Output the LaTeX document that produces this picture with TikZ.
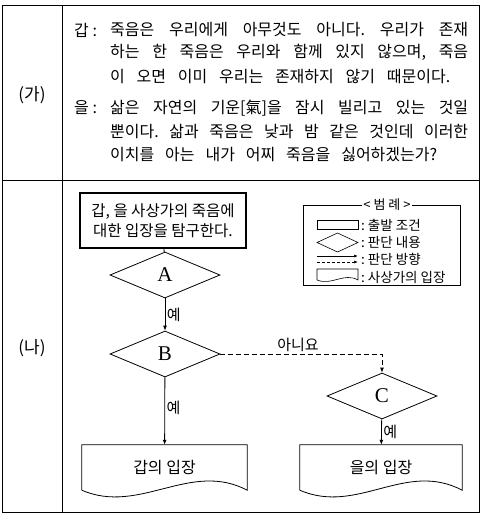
\documentclass[tikz,border=0pt]{standalone}
\usepackage{fontspec}
\setmainfont{Noto Sans CJK KR}
\newfontfamily\latinserif{Liberation Serif}
\usetikzlibrary{shapes.geometric,arrows.meta,calc}
\frenchspacing
\begin{document}
\begin{tikzpicture}[x=1pt,y=-1pt,
  tip/.style={-{Latex[length=5pt,width=4pt]}},
  dia/.style={diamond,draw,line width=0.8pt,shape aspect=2.4,minimum width=110pt,minimum height=46pt,inner sep=0pt,font=\latinserif\fontsize{21}{21}\selectfont},
  docbox/.style={minimum width=165pt,minimum height=45pt,inner sep=0pt,font=\fontsize{16}{18}\selectfont},
  lbl/.style={font=\fontsize{15}{16}\selectfont,inner sep=1.5pt},
  body/.style={anchor=west,inner sep=0pt,font=\fontsize{16}{18}\selectfont},
  legtxt/.style={anchor=west,inner sep=0pt,font=\fontsize{13.5}{15}\selectfont},
  rowlbl/.style={font=\fontsize{17}{19}\selectfont}
]
\useasboundingbox (0,0) rectangle (487,520);
% table
\draw[line width=1pt] (2,5) rectangle (479,512);
\draw[line width=1pt] (62,5) -- (62,512);
\draw[line width=1pt] (2,180) -- (479,180);
\node[rowlbl] (ga) at (32,95) {(가)};
\node[rowlbl] (na) at (32,348) {(나)};
% text
\node[body] (s1) at (74,30) {갑 :};
\node[body] (l1) at (110,30) {\makebox[358pt][s]{죽음은 우리에게 아무것도 아니다. 우리가 존재}};
\node[body] (l2) at (110,52) {\makebox[358pt][s]{하는 한 죽음은 우리와 함께 있지 않으며, 죽음}};
\node[body] (l3) at (110,77) {\makebox[340pt][s]{이 오면 이미 우리는 존재하지 않기 때문이다.}};
\node[body] (s2) at (74,108) {을 :};
\node[body] (l4) at (110,108) {\makebox[358pt][s]{삶은 자연의 기운[氣]을 잠시 빌리고 있는 것일}};
\node[body] (l5) at (110,132) {\makebox[358pt][s]{뿐이다. 삶과 죽음은 낮과 밤 같은 것인데 이러한}};
\node[body] (l6) at (110,155) {\makebox[327pt][s]{이치를 아는 내가 어찌 죽음을 싫어하겠는가?}};
% flowchart
\node[draw,line width=1.6pt,minimum width=166pt,minimum height=55pt,inner sep=0pt,align=center,font=\fontsize{15.5}{19.5}\selectfont] (start) at (163,220.5) {갑, 을 사상가의 죽음에\\대한 입장을 탐구한다.};
\node[dia] (A) at (165,275) {A};
\node[dia] (B) at (165,354) {B};
\node[dia] (C) at (382,396) {C};
\node[docbox] (gd) at (164.5,467.5) {갑의 입장};
\node[docbox,minimum width=162pt] (ed) at (381,467.5) {을의 입장};
\foreach \d in {gd,ed}{
  \draw[line width=0.8pt] (\d.south west) -- (\d.north west) -- (\d.north east) -- (\d.south east)
    .. controls ($(\d.south east)+(-57,-30)$) and ($(\d.south west)+(58,25)$) .. (\d.south west);
}
\draw[line width=0.8pt] (start) -- (A);
\draw[line width=0.8pt,tip] (A) -- node[lbl,right] {예} (B);
\draw[line width=0.8pt,tip] (B) -- node[lbl,right,pos=0.45] {예} (gd);
\draw[line width=0.8pt,dash pattern=on 5pt off 3pt,tip] (B.east) -- node[lbl,above,pos=0.48] {아니요} (C.north |- B.east) -- (C.north);
\draw[line width=0.8pt,tip] (C) -- node[lbl,right] {예} (ed);
% legend
\draw[line width=0.6pt] (303,205) rectangle (460,285);
\node[fill=white,inner sep=1pt,font=\fontsize{13}{14}\selectfont] (legt) at (387,205) {< 범 례 >};
\draw[line width=0.6pt] (317,220) rectangle (358,229);
\node[legtxt] (lg1) at (361,225) {: 출발 조건};
\draw[line width=0.6pt] (317,242.5) -- (337.5,233) -- (358,242.5) -- (337.5,252) -- cycle;
\node[legtxt] (lg2) at (361,242.5) {: 판단 내용};
\draw[line width=0.6pt,-{Latex[length=4pt,width=3pt]}] (317,256) -- (358,256);
\draw[line width=0.6pt,dash pattern=on 3pt off 2pt,-{Latex[length=4pt,width=3pt]}] (317,262) -- (358,262);
\node[legtxt] (lg3) at (361,259) {: 판단 방향};
\draw[line width=0.6pt] (317,280) -- (317,269) -- (358,269) -- (358,280)
  .. controls (344,272) and (332,286) .. (317,280);
\node[legtxt] (lg4) at (361,277) {: 사상가의 입장};
\end{tikzpicture}
\end{document}
